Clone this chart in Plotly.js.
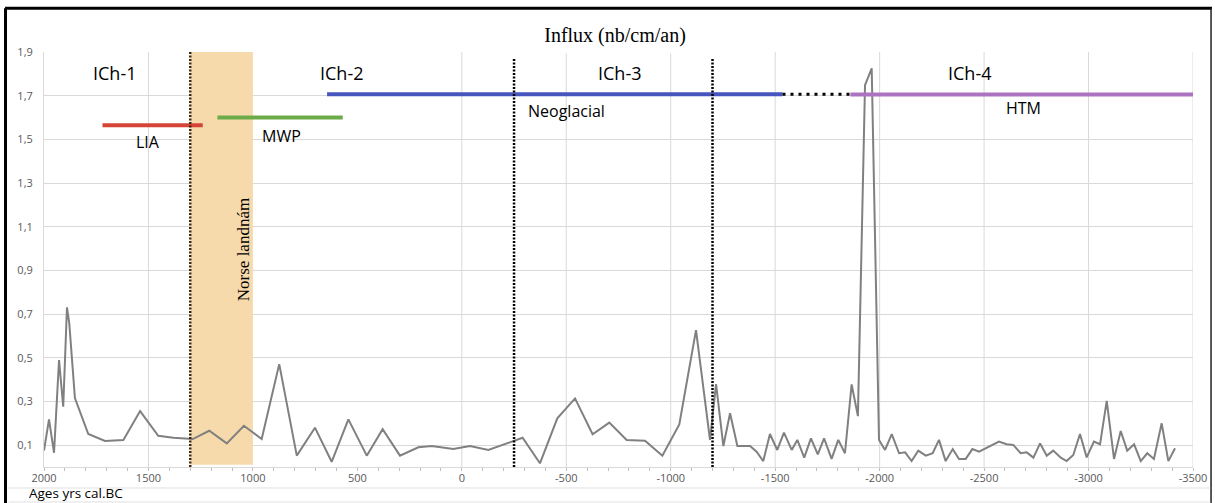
<!DOCTYPE html>
<html>
<head>
<meta charset="utf-8">
<script src="https://cdn.plot.ly/plotly-3.0.1.min.js"></script>
<style>html,body{margin:0;padding:0;background:#fff;}#chart{width:1215px;height:503px;}</style>
</head>
<body>
<div id="chart"></div>
<script>
// ---- data ----
const years = [2000,1976,1952,1928,1908,1890,1879,1852,1788,1708,1620,1540,1453,1381,1288,1209,1125,1043,958,874,790,703,623,543,455,379,296,
  208,144,41,-39,-127,-291,-374,-457,-542,-626,-706,-789,-877,-960,-1041,-1121,-1188,-1217,-1252,-1284,-1319,-1380,-1411,-1443,-1475,-1510,-1542,-1579,-1606,-1639,-1671,-1704,
  -1734,-1770,-1802,-1834,-1866,-1896,-1930,-1962,-1997,-2026,-2058,-2093,-2122,-2153,-2185,-2221,-2254,-2284,-2316,-2350,-2380,-2412,-2444,-2476,-2509,-2571,-2608,-2640,-2675,-2704,-2736,-2768,-2800,-2831,-2867,-2895,-2927,-2959,-2991,-3026,-3055,-3087,-3122,-3154,-3185,-3218,-3250,-3281,-3313,-3350,-3382,-3414];
const influx = [0.075,0.218,0.065,0.490,0.276,0.731,0.658,0.316,0.151,0.119,0.124,0.256,0.143,0.134,0.128,0.166,0.108,0.189,0.128,0.471,0.052,0.180,0.024,0.218,0.052,0.173,0.052,
  0.090,0.096,0.082,0.096,0.078,0.134,0.017,0.223,0.314,0.150,0.203,0.124,0.120,0.052,0.195,0.627,0.124,0.380,0.096,0.246,0.096,0.096,0.070,0.027,0.151,0.078,0.157,0.078,0.124,0.043,0.131,0.058,
  0.131,0.037,0.124,0.063,0.378,0.233,1.748,1.825,0.124,0.078,0.151,0.063,0.067,0.027,0.075,0.052,0.063,0.124,0.027,0.082,0.037,0.037,0.082,0.070,0.086,0.116,0.104,0.101,0.063,0.067,0.043,0.108,0.052,0.075,0.043,0.027,0.055,0.151,0.044,0.116,0.104,0.303,0.037,0.165,0.075,0.104,0.027,0.063,0.037,0.200,0.027,0.086];

const periodLabels = ['LIA', 'MWP', 'Neoglacial', 'HTM'];
const periodStart  = [1720, 1170, 645, -1860];
const periodEnd    = [1240, 570, -1535, -3500];
const periodLevel  = [1.565, 1.600, 1.707, 1.705];

const zoneLabels = ['ICh-1', 'ICh-2', 'ICh-3', 'ICh-4'];
const zoneBounds = [1300, -250, -1200];

const norseLabel = 'Norse landnám';
const norseStart = 1300;
const norseEnd = 1000;

const xTicks = [2000, 1500, 1000, 500, 0, -500, -1000, -1500, -2000, -2500, -3000, -3500];
const yTicks = [0.1, 0.3, 0.5, 0.7, 0.9, 1.1, 1.3, 1.5, 1.7, 1.9];
const xGridYears = [1500, 0, -500, -1000, -1500, -2000, -2500, -3000, -3500];

// ---- styles ----
const periodColors = ['rgb(214,68,56)', 'rgb(108,172,72)', 'rgb(70,86,190)', 'rgb(172,116,192)'];
const zoneColors = ['#3a2a14', '#000000', '#000000'];
const zoneTops = [1.9, 1.87, 1.87];

const traces = [];
traces.push({x: years, y: influx, type: 'scatter', mode: 'lines',
  line: {color: 'rgb(128,128,128)', width: 2}, hoverinfo: 'skip'});
periodLabels.forEach((p, i) => {
  traces.push({x: [periodStart[i], periodEnd[i]], y: [periodLevel[i], periodLevel[i]],
    type: 'scatter', mode: 'lines', line: {color: periodColors[i], width: 4}, hoverinfo: 'skip'});
});
traces.push({x: [periodEnd[2], periodStart[3]], y: [periodLevel[2], periodLevel[2]],
  type: 'scatter', mode: 'lines', line: {color: '#000', width: 3, dash: '3px,5px'}, hoverinfo: 'skip'});
zoneBounds.forEach((b, i) => {
  traces.push({x: [b, b], y: [0, zoneTops[i]], type: 'scatter', mode: 'lines',
    line: {color: zoneColors[i], width: 2.5, dash: '2px,1.5px'}, hoverinfo: 'skip'});
});

const shapes = [];
xGridYears.forEach(g => shapes.push({type: 'line', xref: 'x', yref: 'y', x0: g, x1: g, y0: 0, y1: 1.9,
  line: {color: '#d9d9d9', width: 1}, layer: 'below'}));
shapes.push({type: 'rect', xref: 'x', yref: 'y', x0: norseStart, x1: norseEnd, y0: 0.01, y1: 1.9,
  fillcolor: 'rgb(247,218,172)', line: {width: 0}, layer: 'between'});
shapes.push({type: 'line', xref: 'x', yref: 'y', x0: -125, x1: -1332, y0: 1.9, y1: 1.9,
  line: {color: '#ffffff', width: 3}, layer: 'between'});
// frame
shapes.push({type: 'line', xref: 'paper', yref: 'paper', x0: -0.0339, x1: 1.0165, y0: 1.1052, y1: 1.1052, line: {color: '#000', width: 3}});
shapes.push({type: 'line', xref: 'paper', yref: 'paper', x0: -0.0335, x1: -0.0335, y0: 1.1052, y1: -0.1, line: {color: '#000', width: 3}});
shapes.push({type: 'line', xref: 'paper', yref: 'paper', x0: 1.0157, x1: 1.0157, y0: 1.1052, y1: -0.1, line: {color: '#222', width: 1.5}});
shapes.push({type: 'line', xref: 'paper', yref: 'paper', x0: -0.031, x1: 1.015, y0: -0.0506, y1: -0.0506, line: {color: '#e0e0e0', width: 1}});
shapes.push({type: 'line', xref: 'paper', yref: 'paper', x0: -0.031, x1: 1.015, y0: -0.0843, y1: -0.0843, line: {color: '#e0e0e0', width: 1}});

const sans = 'Open Sans, Liberation Sans, sans-serif';
const serif = 'Liberation Serif, DejaVu Serif, serif';
const ann = [];
const zoneX = [1660, 574, -757, -2432];
zoneLabels.forEach((z, i) => ann.push({x: zoneX[i], y: 1.803, xref: 'x', yref: 'y', text: z, showarrow: false,
  font: {family: sans, size: 18, color: '#000'}}));
const periodTextX = [1502, 861, -499, -2691];
const periodTextY = [1.487, 1.515, 1.629, 1.643];
periodLabels.forEach((p, i) => ann.push({x: periodTextX[i], y: periodTextY[i], xref: 'x', yref: 'y', text: p,
  showarrow: false, font: {family: sans, size: 16, color: '#000'}}));
ann.push({x: 1047, y: 0.993, xref: 'x', yref: 'y', text: norseLabel, textangle: -90, showarrow: false,
  font: {family: serif, size: 17, color: '#000'}});
ann.push({x: -0.014, y: -0.0867, xref: 'paper', yref: 'paper', xanchor: 'left', yanchor: 'bottom', borderpad: 0,
  text: 'Ages yrs cal.BC', showarrow: false, font: {family: sans, size: 13.5, color: '#000'}});

const layout = {
  width: 1215, height: 503,
  margin: {l: 44, r: 22, t: 52, b: 36, pad: 0},
  paper_bgcolor: '#ffffff', plot_bgcolor: '#ffffff',
  separators: ', ',
  showlegend: false,
  title: {text: 'Influx (nb/cm/an)', font: {family: serif, size: 20, color: '#000'},
    x: 0.497, xref: 'paper', xanchor: 'center', y: 0.93, yref: 'container', yanchor: 'middle'},
  xaxis: {range: [2000, -3500], tickmode: 'array', tickvals: xTicks, ticktext: xTicks.map(String),
    ticks: 'outside', ticklen: 3, tickcolor: '#bfbfbf', showgrid: false, zeroline: false,
    showline: true, linecolor: '#d9d9d9', linewidth: 1, ticklabelstandoff: -2,
    tickfont: {family: sans, size: 11, color: '#595959'},
    minor: {tickmode: 'linear', tick0: 0, dtick: 100, ticks: 'outside', ticklen: 3, tickcolor: '#bfbfbf', showgrid: false}},
  yaxis: {range: [0, 1.9], tickmode: 'array', tickvals: yTicks, showgrid: true, gridcolor: '#d9d9d9', gridwidth: 1,
    zeroline: false, showline: true, linecolor: '#d9d9d9', ticks: '', ticklabelstandoff: 8,
    tickfont: {family: sans, size: 11, color: '#595959'}},
  shapes: shapes,
  annotations: ann
};
Plotly.newPlot('chart', traces, layout, {displayModeBar: false, staticPlot: true});
</script>
</body>
</html>
